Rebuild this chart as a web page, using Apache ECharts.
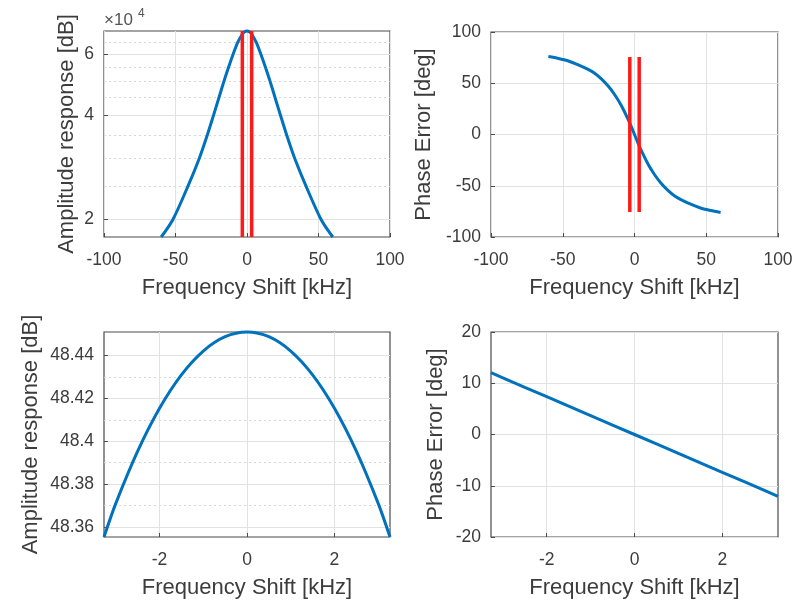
<!DOCTYPE html>
<html>
<head>
<meta charset="utf-8">
<script src="https://cdn.jsdelivr.net/npm/echarts@6/dist/echarts.min.js"></script>
<style>
  html, body { margin: 0; padding: 0; background: #ffffff; }
  #chart { width: 801px; height: 603px; }
</style>
</head>
<body>
<div id="chart"></div>
<script>
// Filter response: wide frequency sweep (top row) and in-band detail (bottom row)

// Wide sweep, amplitude (linear units, log axis)
const sweepFreq = [-60, -51.8, -41.2, -33.4, -27.8, -23.4, -19.6, -16.2, -12.9, -9.7, -6.4, -3.2, -1.6, 0,
                   1.6, 3.2, 6.4, 9.7, 12.9, 16.2, 19.6, 23.4, 27.8, 33.4, 41.2, 51.8, 60];
const sweepAmp = [17800, 20000, 25000, 30000, 35000, 40000, 45000, 50000, 55000, 60000, 65000, 68600, 69650, 70000,
                  69650, 68600, 65000, 60000, 55000, 50000, 45000, 40000, 35000, 30000, 25000, 20000, 17800];

// Wide sweep, phase error
const phaseFreq = [-60, -53, -46.5, -40, -33, -28, -23.3, -18.5, -13.9, -9.3, -4.7, -2.3, 0,
                   2.3, 4.7, 9.3, 13.9, 18.5, 23.3, 28, 33, 40, 46.5, 53, 60];
const phaseDeg = [76, 74.2, 72, 68.5, 64, 60, 54.5, 47.5, 39, 28.5, 15.5, 7.9, 0,
                  -7.9, -15.5, -28.5, -39, -47.5, -54.5, -60, -64, -68.5, -72, -74.2, -76];

// Pass band detail
const bandFreq = [-3.27, -3, -2.5, -2, -1.5, -1, -0.5, 0, 0.5, 1, 1.5, 2, 2.5, 3, 3.27];
const bandAmpDb = [48.3553, 48.371, 48.3954, 48.4154, 48.431, 48.4421, 48.4488, 48.451,
                   48.4488, 48.4421, 48.431, 48.4154, 48.3954, 48.371, 48.3553];
const bandPhaseDeg = [12.05, 11.05, 9.2, 7.37, 5.53, 3.69, 1.84, 0, -1.84, -3.69, -5.53, -7.37, -9.2, -11.05, -12.05];

// Pass band edges, drawn as red markers on the sweep plots
const bandEdges = [-3.27, 3.27];
const phaseMarkRange = [-75.5, 75.5];

// Axis limits and ticks
const ampRange = [17800, 70000];
const ampMajorTicks = [20000, 40000, 60000];
const ampMinorTicks = [25000, 30000, 35000, 45000, 50000, 55000, 65000];
const bandRange = [-3.27, 3.27];
const bandTicks = [-2, 0, 2];
const bandAmpRange = [48.3553, 48.4510];
const bandAmpTicks = [48.36, 48.38, 48.40, 48.42, 48.44];
const bandAmpMinorTicks = [48.37, 48.39, 48.41, 48.43];

const FONT = 'Liberation Sans, Arial, Helvetica, sans-serif';
const TEXT = '#3c3c3c';
const AXIS = '#4a4a4a';
const GRIDC = '#e2e2e2';
const BLUE = '#0072BD';
const RED = '#ff1a1a';
const TICK_FS = 17.5;
const NAME_FS = 22;

const zip = (xs, ys) => xs.map((x, i) => [x, ys[i]]);

function xAxisCfg(gridIndex, extra) {
  return Object.assign({
    type: 'value', gridIndex: gridIndex,
    name: 'Frequency Shift [kHz]', nameLocation: 'middle', nameGap: 40,
    nameTextStyle: { fontSize: NAME_FS, color: TEXT, fontFamily: FONT },
    axisLine: { show: false, onZero: false },
    axisTick: { show: true, inside: true, length: 4, lineStyle: { color: AXIS } },
    axisLabel: { margin: 14, fontSize: TICK_FS, color: TEXT, fontFamily: FONT },
    splitLine: { show: true, lineStyle: { color: GRIDC, width: 1 } }
  }, extra);
}

function yAxisCfg(gridIndex, name, nameGap, extra) {
  return Object.assign({
    gridIndex: gridIndex, position: 'left',
    name: name, nameLocation: 'middle', nameRotate: 90, nameGap: nameGap,
    nameTextStyle: { fontSize: NAME_FS, color: TEXT, fontFamily: FONT },
    axisLine: { show: false, onZero: false },
    axisTick: { show: true, inside: true, length: 4, lineStyle: { color: AXIS } },
    axisLabel: { margin: 10, fontSize: TICK_FS, color: TEXT, fontFamily: FONT },
    splitLine: { show: true, lineStyle: { color: GRIDC, width: 1 } }
  }, extra);
}

function minorAxis(gridIndex, type, range, ticks) {
  return {
    type: type, gridIndex: gridIndex, position: 'left', min: range[0], max: range[1],
    axisLine: { show: false, onZero: false },
    axisTick: { show: false, customValues: ticks },
    axisLabel: { show: false },
    splitLine: { show: true, lineStyle: { color: '#d6d6d6', width: 1, type: [2, 3] } }
  };
}

function markerSeries(x, yRange, xi, yi) {
  return {
    type: 'line', xAxisIndex: xi, yAxisIndex: yi, symbol: 'none', silent: true, z: 5,
    lineStyle: { color: RED, width: 3.5 },
    data: [[x, yRange[0]], [x, yRange[1]]]
  };
}

function curve(xi, yi, data, smooth) {
  return {
    type: 'line', xAxisIndex: xi, yAxisIndex: yi, symbol: 'none',
    smooth: smooth, clip: false, z: 3,
    lineStyle: { color: BLUE, width: 3 }, data: data
  };
}

const gridBox = { show: true, borderColor: AXIS, borderWidth: 1.2, containLabel: false, outerBoundsMode: 'none' };
const bandTickStyle = { show: true, inside: true, length: 4, lineStyle: { color: AXIS }, customValues: bandTicks };
const bandLabelStyle = { margin: 14, fontSize: TICK_FS, color: TEXT, fontFamily: FONT, customValues: bandTicks };

const chart = echarts.init(document.getElementById('chart'), null, { renderer: 'canvas' });
chart.setOption({
  backgroundColor: '#ffffff',
  animation: false,
  textStyle: { fontFamily: FONT },
  grid: [
    Object.assign({ left: 104, top: 31, width: 286, height: 206 }, gridBox),
    Object.assign({ left: 491, top: 32, width: 287, height: 205 }, gridBox),
    Object.assign({ left: 104, top: 332, width: 286, height: 205 }, gridBox),
    Object.assign({ left: 491, top: 332, width: 287, height: 205 }, gridBox)
  ],
  xAxis: [
    xAxisCfg(0, { min: -100, max: 100, interval: 50 }),
    xAxisCfg(1, { min: -100, max: 100, interval: 50 }),
    xAxisCfg(2, { min: bandRange[0], max: bandRange[1], axisTick: bandTickStyle, axisLabel: bandLabelStyle }),
    xAxisCfg(3, { min: bandRange[0], max: bandRange[1], axisTick: bandTickStyle, axisLabel: bandLabelStyle })
  ],
  yAxis: [
    yAxisCfg(0, 'Amplitude response [dB]', 26, {
      type: 'log', logBase: 10, min: ampRange[0], max: ampRange[1],
      axisTick: { show: true, inside: true, length: 4, lineStyle: { color: AXIS }, customValues: ampMajorTicks },
      axisLabel: { margin: 10, fontSize: TICK_FS, color: TEXT, fontFamily: FONT, customValues: ampMajorTicks,
                   formatter: v => String(Math.round(v / 1e4)) }
    }),
    minorAxis(0, 'log', ampRange, ampMinorTicks),
    yAxisCfg(1, 'Phase Error [deg]', 56, { type: 'value', min: -100, max: 100, interval: 50 }),
    yAxisCfg(2, 'Amplitude response [dB]', 62, {
      type: 'value', min: bandAmpRange[0], max: bandAmpRange[1],
      axisTick: { show: true, inside: true, length: 4, lineStyle: { color: AXIS }, customValues: bandAmpTicks },
      axisLabel: { margin: 10, fontSize: TICK_FS, color: TEXT, fontFamily: FONT, customValues: bandAmpTicks,
                   formatter: v => String(+v.toFixed(2)) }
    }),
    minorAxis(2, 'value', bandAmpRange, bandAmpMinorTicks),
    yAxisCfg(3, 'Phase Error [deg]', 44, { type: 'value', min: -20, max: 20, interval: 10 })
  ],
  graphic: [
    { type: 'text', left: 104, top: 12, silent: true,
      style: { text: '×10', fontSize: 17, fill: '#555', fontFamily: FONT } },
    { type: 'text', left: 138, top: 8, silent: true,
      style: { text: '4', fontSize: 12, fill: '#555', fontFamily: FONT } }
  ],
  series: [
    curve(0, 0, zip(sweepFreq, sweepAmp), 0.3),
    markerSeries(bandEdges[0], ampRange, 0, 0),
    markerSeries(bandEdges[1], ampRange, 0, 0),
    curve(1, 2, zip(phaseFreq, phaseDeg), 0.3),
    markerSeries(bandEdges[0], phaseMarkRange, 1, 2),
    markerSeries(bandEdges[1], phaseMarkRange, 1, 2),
    curve(2, 3, zip(bandFreq, bandAmpDb), 0.3),
    curve(3, 5, zip(bandFreq, bandPhaseDeg), false)
  ]
});
</script>
</body>
</html>
